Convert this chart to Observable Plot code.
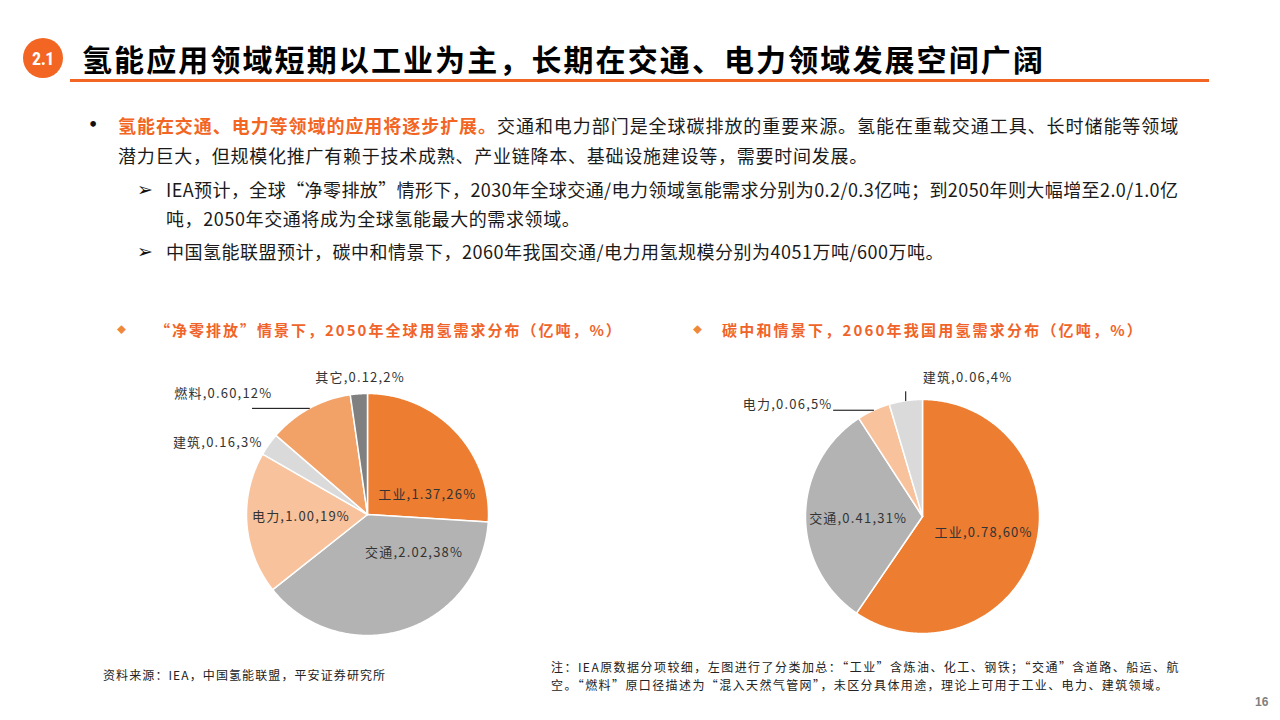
<!DOCTYPE html>
<html><head><meta charset="utf-8">
<script src="https://cdn.jsdelivr.net/npm/d3@7"></script>
<script src="https://cdn.jsdelivr.net/npm/@observablehq/plot@0.6"></script>
<style>
html,body{margin:0;padding:0;background:#fff;}
#slide{position:relative;width:1280px;height:720px;overflow:hidden;font-family:"Noto Sans CJK SC","Noto Sans",sans-serif;color:#1a1a1a;}
.abs{position:absolute;white-space:nowrap;}
.badge{left:23px;top:38px;width:40px;height:40px;border-radius:50%;background:#F26522;color:#fff;font:bold 18px "Liberation Sans Narrow","Roboto Condensed","Liberation Sans",sans-serif;display:flex;align-items:center;justify-content:center;letter-spacing:-0.5px;}
.title{left:82px;top:38px;font-size:30px;line-height:40px;font-weight:700;letter-spacing:2.1px;color:#000;}
.rule{left:70px;top:79px;width:1139px;height:3px;background:#F26522;}
.body{font-size:18px;line-height:24px;letter-spacing:0.95px;color:#1a1a1a;}
.hl{color:#F26522;font-weight:700;}
.ctitle{font-size:15px;line-height:20px;font-weight:700;color:#F0642A;}
.dia{font-size:9px;line-height:20px;color:#F0883A;}
.foot{font-size:12px;line-height:18px;color:#222;}
.mk{font-family:"DejaVu Sans",sans-serif;font-weight:bold;color:#111;}
.pie{position:absolute;}
</style></head>
<body><div id="slide">
<div class="abs badge">2.1</div>
<div class="abs title">氢能应用领域短期以工业为主，长期在交通、电力领域发展空间广阔</div>
<div class="abs rule"></div>

<div class="abs body mk" style="left:88px;top:113px;font-size:16px;">•</div>
<div class="abs body" style="left:118px;top:113px;"><span class="hl">氢能在交通、电力等领域的应用将逐步扩展。</span>交通和电力部门是全球碳排放的重要来源。氢能在重载交通工具、长时储能等领域</div>
<div class="abs body" style="left:118px;top:143px;letter-spacing:0.75px;">潜力巨大，但规模化推广有赖于技术成熟、产业链降本、基础设施建设等，需要时间发展。</div>
<div class="abs body mk" style="left:137px;top:177px;font-size:19px;">➢</div>
<div class="abs body" style="left:166px;top:177px;letter-spacing:0.42px;">IEA预计，全球“净零排放”情形下，2030年全球交通/电力领域氢能需求分别为0.2/0.3亿吨；到2050年则大幅增至2.0/1.0亿</div>
<div class="abs body" style="left:166px;top:206px;letter-spacing:0.6px;">吨，2050年交通将成为全球氢能最大的需求领域。</div>
<div class="abs body mk" style="left:137px;top:239px;font-size:19px;">➢</div>
<div class="abs body" style="left:166px;top:239px;letter-spacing:0.5px;">中国氢能联盟预计，碳中和情景下，2060年我国交通/电力用氢规模分别为4051万吨/600万吨。</div>

<div class="abs dia" style="left:117px;top:320px;">◆</div>
<div class="abs ctitle" style="left:155px;top:320px;letter-spacing:2px;">“净零排放”情景下，2050年全球用氢需求分布（亿吨，%）</div>
<div class="abs dia" style="left:693px;top:320px;">◆</div>
<div class="abs ctitle" style="left:722px;top:320px;letter-spacing:2.2px;">碳中和情景下，2060年我国用氢需求分布（亿吨，%）</div>

<div id="pieL" class="pie"></div>
<div id="pieR" class="pie"></div>

<div class="abs foot" style="left:103px;top:666px;letter-spacing:1.1px;">资料来源：IEA，中国氢能联盟，平安证券研究所</div>
<div class="abs foot" style="left:551px;top:658px;letter-spacing:1.45px;">注：IEA原数据分项较细，左图进行了分类加总：“工业”含炼油、化工、钢铁；“交通”含道路、船运、航</div>
<div class="abs foot" style="left:551px;top:676px;letter-spacing:1.4px;">空。“燃料”原口径描述为“混入天然气管网”，未区分具体用途，理论上可用于工业、电力、建筑领域。</div>
<div class="abs" style="left:1255px;top:695px;font:bold 12px 'Liberation Sans',sans-serif;color:#7F7F7F;">16</div>
</div>
<script>
// ---- Data ----
const leftCategories = ["工业", "交通", "电力", "建筑", "燃料", "其它"];
const leftValues = [1.37, 2.02, 1.00, 0.16, 0.60, 0.12];
const leftShares = ["26%", "38%", "19%", "3%", "12%", "2%"];
const leftColors = ["#ED7D31", "#B3B3B3", "#F8C29C", "#DADADA", "#F2A167", "#808080"];

const rightCategories = ["工业", "交通", "电力", "建筑"];
const rightValues = [0.78, 0.41, 0.06, 0.06];
const rightShares = ["60%", "31%", "5%", "4%"];
const rightColors = ["#ED7D31", "#B3B3B3", "#F8C29C", "#DADADA"];

// ---- Label layout (annotation placement, not data) ----
const leftLabelLayout = [
  {mode: "in", shift: 25, rf: 0.52},
  {mode: "in", shift: -33, rf: 0.50},
  {mode: "in", shift: 2, rf: 0.55},
  {mode: "out", shift: -1, rf: 1.05, anchor: "end"},
  {mode: "lead", dir: "h", len: 57, dx: 20, dy: -15, anchor: "end"},
  {mode: "out", shift: 1, rf: 1.13, anchor: "middle"}
];
const rightLabelLayout = [
  {mode: "in", shift: -2.5, rf: 0.54},
  {mode: "in", shift: -2.7, rf: 0.55},
  {mode: "lead", dir: "h", len: 40, dx: -1, dy: -5, anchor: "end"},
  {mode: "lead", dir: "v", len: 9, dx: 17, dy: -14, anchor: "start"}
];

function drawPie(el, cats, vals, shares, colors, layout, cx, cy, r, hw, hh) {
  const arcs = d3.pie().sort(null).value(d => d)(vals);
  const marks = [];
  const labels = [];
  const leaders = [];
  const deg = Math.PI / 180;
  arcs.forEach((a, i) => {
    const n = Math.max(2, Math.ceil((a.endAngle - a.startAngle) / (0.5 * deg)));
    const pts = [{x: 0, y: 0}];
    for (let k = 0; k <= n; k++) {
      const t = a.startAngle + (a.endAngle - a.startAngle) * k / n;
      pts.push({x: Math.sin(t), y: Math.cos(t)});
    }
    pts.push({x: 0, y: 0});
    marks.push(Plot.line(pts, {x: "x", y: "y", fill: colors[i], stroke: "white", strokeWidth: 1.5, strokeLinejoin: "round"}));
    const mid = (a.startAngle + a.endAngle) / 2;
    const L = layout[i];
    const text = `${cats[i]},${vals[i].toFixed(2)},${shares[i]}`;
    if (L.mode === "in" || L.mode === "out") {
      const t = mid + L.shift * deg;
      labels.push({x: L.rf * Math.sin(t), y: L.rf * Math.cos(t), text, anchor: L.anchor || "middle"});
    } else {
      const E = {x: Math.sin(mid), y: Math.cos(mid)};
      const K = L.dir === "h" ? {x: E.x - L.len / r, y: E.y} : {x: E.x, y: E.y + L.len / r};
      leaders.push([E, K]);
      labels.push({x: K.x + L.dx / r, y: K.y - L.dy / r, text, anchor: L.anchor});
    }
  });
  leaders.forEach(seg => marks.push(Plot.line(seg, {x: "x", y: "y", stroke: "#000", strokeWidth: 1})));
  ["start", "middle", "end"].forEach(anc => {
    const sub = labels.filter(d => d.anchor === anc);
    if (sub.length) marks.push(Plot.text(sub, {x: "x", y: "y", text: "text", textAnchor: anc, fill: "#333", fontSize: 13}));
  });
  const chart = Plot.plot({
    width: 2 * hw, height: 2 * hh, margin: 0,
    x: {domain: [-hw / r, hw / r], axis: null},
    y: {domain: [-hh / r, hh / r], axis: null},
    style: {background: "transparent", overflow: "visible", fontFamily: "'Noto Sans CJK SC', sans-serif", letterSpacing: "1.2px"},
    marks
  });
  el.style.left = (cx - hw) + "px";
  el.style.top = (cy - hh) + "px";
  el.appendChild(chart);
}

drawPie(document.getElementById("pieL"), leftCategories, leftValues, leftShares, leftColors, leftLabelLayout, 367, 514, 121, 240, 150);
drawPie(document.getElementById("pieR"), rightCategories, rightValues, rightShares, rightColors, rightLabelLayout, 922, 516, 117, 230, 150);
</script>
</body></html>
